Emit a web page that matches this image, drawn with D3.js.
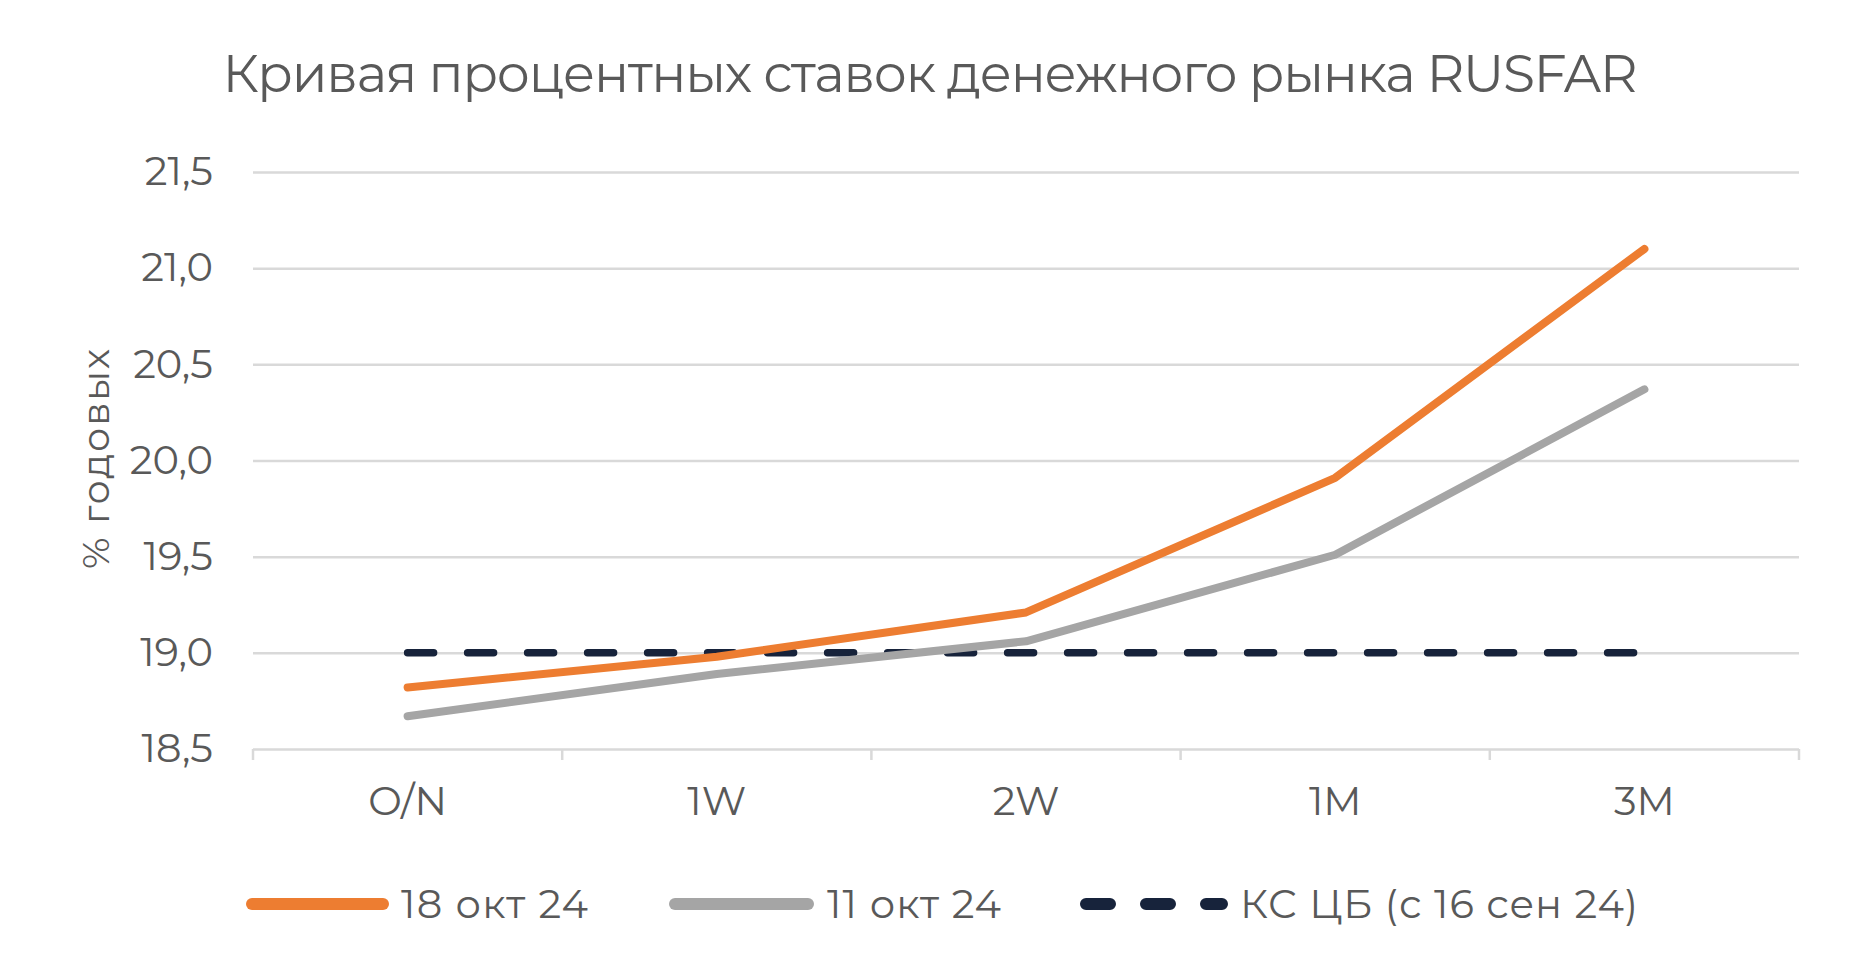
<!DOCTYPE html>
<html>
<head>
<meta charset="utf-8">
<script src="https://cdn.jsdelivr.net/npm/d3@7"></script>
<style>
  html, body { margin: 0; padding: 0; background: #fff; }
  svg { display: block; font-family: "Montserrat", "Open Sans", sans-serif; }
</style>
</head>
<body>
<div id="chart"></div>
<script>
// chart data
const categories = ['O/N', '1W', '2W', '1M', '3M'];
const rates18Oct = [18.82, 18.98, 19.21, 19.91, 21.10];
const rates11Oct = [18.67, 18.89, 19.06, 19.51, 20.37];
const keyRate = [19.0, 19.0, 19.0, 19.0, 19.0];
const yTicks = [18.5, 19.0, 19.5, 20.0, 20.5, 21.0, 21.5];
const seriesNames = ['18 окт 24', '11 окт 24', 'КС ЦБ (с 16 сен 24)'];

const width = 1861;
const height = 979;
const margin = { top: 172, right: 62, bottom: 230, left: 253 };
const textColor = '#595959';
const gridColor = '#d9d9d9';

const svg = d3.select('#chart')
    .append('svg')
    .attr('width', width)
    .attr('height', height);

svg.append('rect')
    .attr('width', width)
    .attr('height', height)
    .attr('fill', '#fff');

const x = d3.scaleBand()
    .domain(categories)
    .range([margin.left, width - margin.right]);

const y = d3.scaleLinear()
    .domain([18.5, 21.5])
    .range([height - margin.bottom, margin.top]);

const fmt = v => d3.format('.1f')(v).replace('.', ',');

// stretch text to the width it has in the original (Montserrat is wider)
function fitWidth(sel, w) {
    sel.each(function () {
        const cur = this.getComputedTextLength();
        if (Math.abs(cur - w) > 4) {
            d3.select(this).attr('textLength', w).attr('lengthAdjust', 'spacing');
        }
    });
}

// title
const title = svg.append('text')
    .attr('x', 930)
    .attr('y', 92)
    .attr('text-anchor', 'middle')
    .attr('fill', textColor)
    .style('font-size', '52px')
    .text('Кривая процентных ставок денежного рынка RUSFAR');
fitWidth(title, 1415);

// y gridlines + labels
const yAxis = svg.append('g')
    .attr('transform', `translate(${margin.left},0)`)
    .call(d3.axisLeft(y)
        .tickValues(yTicks)
        .tickSize(-(width - margin.left - margin.right))
        .tickPadding(40)
        .tickFormat(fmt));
yAxis.select('.domain').remove();
yAxis.selectAll('.tick line')
    .attr('stroke', gridColor)
    .attr('stroke-width', 2.5);
yAxis.selectAll('.tick text')
    .attr('fill', textColor)
    .style('font-size', '40px')
    .style('font-family', '"Montserrat", "Open Sans", sans-serif');

// x axis
const xAxis = svg.append('g')
    .attr('transform', `translate(0,${y(18.5)})`)
    .call(d3.axisBottom(x).tickSize(0).tickPadding(38));
xAxis.select('.domain').remove();
xAxis.selectAll('.tick text')
    .attr('fill', textColor)
    .style('font-size', '40px')
    .style('font-family', '"Montserrat", "Open Sans", sans-serif');

// category boundary ticks
const bounds = categories.map(c => x(c)).concat([x(categories[categories.length - 1]) + x.bandwidth()]);
svg.append('g')
    .selectAll('line')
    .data(bounds)
    .join('line')
    .attr('x1', d => d)
    .attr('x2', d => d)
    .attr('y1', y(18.5))
    .attr('y2', y(18.5) + 11)
    .attr('stroke', gridColor)
    .attr('stroke-width', 2.5);

// y axis title
const yTitle = svg.append('text')
    .attr('transform', `translate(109,${459}) rotate(-90)`)
    .attr('text-anchor', 'middle')
    .attr('fill', textColor)
    .style('font-size', '38px')
    .text('% годовых');
fitWidth(yTitle, 220);

// lines
const line = d3.line()
    .x((d, i) => x(categories[i]) + x.bandwidth() / 2)
    .y(d => y(d));

svg.append('path')
    .datum(keyRate)
    .attr('d', line)
    .attr('fill', 'none')
    .attr('stroke', '#17233b')
    .attr('stroke-width', 7.5)
    .attr('stroke-linecap', 'round')
    .attr('stroke-dasharray', '26,34');

svg.append('path')
    .datum(rates11Oct)
    .attr('d', line)
    .attr('fill', 'none')
    .attr('stroke', '#a5a5a5')
    .attr('stroke-width', 8)
    .attr('stroke-linecap', 'round')
    .attr('stroke-linejoin', 'round');

svg.append('path')
    .datum(rates18Oct)
    .attr('d', line)
    .attr('fill', 'none')
    .attr('stroke', '#ed7d31')
    .attr('stroke-width', 8)
    .attr('stroke-linecap', 'round')
    .attr('stroke-linejoin', 'round');

// legend
const legendItems = [
    { name: seriesNames[0], color: '#ed7d31', dash: null, x0: 252, x1: 383, tx: 401, tw: 187 },
    { name: seriesNames[1], color: '#a5a5a5', dash: null, x0: 675, x1: 808, tx: 827, tw: 174 },
    { name: seriesNames[2], color: '#17233b', dash: '24,36', x0: 1086, x1: 1222, tx: 1240, tw: 398 }
];
const legend = svg.append('g').attr('transform', 'translate(0,904)');
const li = legend.selectAll('g')
    .data(legendItems)
    .join('g');
li.append('line')
    .attr('x1', d => d.x0)
    .attr('x2', d => d.x1)
    .attr('stroke', d => d.color)
    .attr('stroke-width', 12)
    .attr('stroke-linecap', 'round')
    .attr('stroke-dasharray', d => d.dash);
li.append('text')
    .attr('x', d => d.tx)
    .attr('dy', '0.35em')
    .attr('fill', textColor)
    .style('font-size', '40px')
    .text(d => d.name)
    .each(function (d) { fitWidth(d3.select(this), d.tw); });
</script>
</body>
</html>
